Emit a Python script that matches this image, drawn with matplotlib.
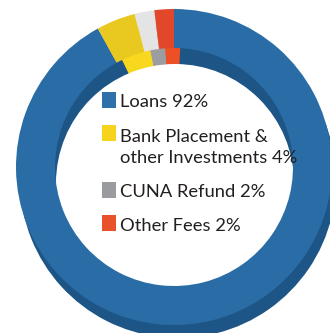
"""Income breakdown ring chart with a slight 3D wall and an inset legend."""

import matplotlib.pyplot as plt
from matplotlib.patches import Circle, Rectangle

labels = ["Loans 92%", "Bank Placement &\nother Investments 4%", "CUNA Refund 2%", "Other Fees 2%"]
shares = [92, 4, 2, 2]

face_colors = ["#2a6da6", "#e9c81f", "#e4e4e4", "#e2472a"]
wall_colors = ["#1e5587", "#f7d81e", "#9c9da0", "#ee5026"]
key_colors = ["#2e71aa", "#f7d31d", "#9a9b9e", "#e9512b"]

W, H = 330, 333
cx, cy = 174, H - 167
r_out, r_in = 158, 119

fig = plt.figure(figsize=(W / 100, H / 100), dpi=100)
ax = fig.add_axes([0, 0, 1, 1])
plain = dict(linewidth=0, edgecolor="none")

# outer side wall, peeking out under the ring at the bottom
ax.pie(shares, colors=wall_colors, startangle=90, counterclock=False,
       radius=r_out, center=(cx + 4, cy - 13), wedgeprops=plain, frame=True)

# inner far wall, seen through the hole
ax.pie(shares, colors=wall_colors, startangle=87, counterclock=False,
       radius=r_in + 2, center=(cx, cy), wedgeprops=plain, frame=True)
ax.add_patch(Circle((cx + 1, cy - 16), r_in, facecolor="white", edgecolor="none", zorder=3))

# top face of the ring
wedges, _ = ax.pie(shares, colors=face_colors, startangle=90, counterclock=False,
                   radius=r_out, center=(cx, cy),
                   wedgeprops=dict(width=r_out - r_in, **plain), frame=True)
for w in wedges:
    w.set_zorder(4)

ax.set_xlim(0, W)
ax.set_ylim(0, H)
ax.axis("off")

# legend inside the hole
key_x, text_x = 102, 120
key_tops = [92, 125, 182, 215]
baselines = [107, 142, 197, 231]
line_step = 21
for label, color, top, base in zip(labels, key_colors, key_tops, baselines):
    ax.add_patch(Rectangle((key_x, H - top - 16), 14, 16, facecolor=color,
                           edgecolor="none", zorder=5))
    for i, line in enumerate(label.split("\n")):
        ax.text(text_x, H - base - i * line_step, line, fontsize=13.2, family="Lato",
                color="#231f20", va="baseline", ha="left", zorder=6)

fig.savefig("out.png", dpi=100, facecolor="white")
